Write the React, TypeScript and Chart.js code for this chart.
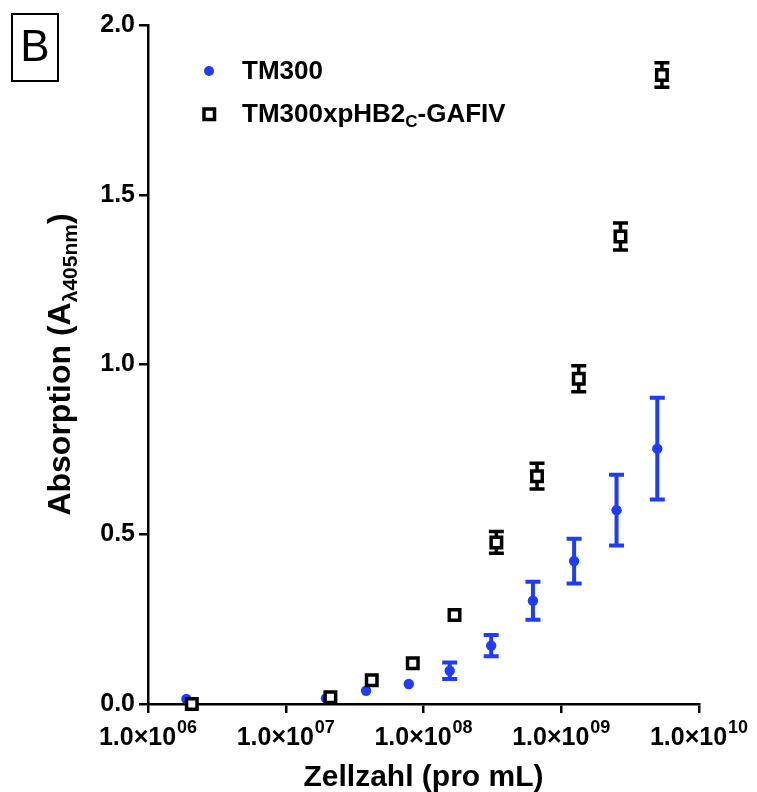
import React, { useEffect, useRef } from 'react';
import { Chart, registerables } from 'chart.js';

Chart.register(...registerables);

const FONT = "'Liberation Sans', Arial, Helvetica, sans-serif";

// Data
const seriesNames = ['TM300', 'TM300xpHB2', 'C', '-GAFIV'];
const xBlue = [1.9e6, 1.96e7, 3.83e7, 7.82e7, 1.55e8, 3.1e8, 6.23e8, 1.24e9, 2.52e9, 4.98e9];
const yBlue = [0.015, 0.017, 0.039, 0.059, 0.098, 0.172, 0.304, 0.421, 0.571, 0.752];
const errBlue = [0, 0, 0, 0, 0.024, 0.031, 0.056, 0.066, 0.104, 0.15];
const xBlack = [2.08e6, 2.11e7, 4.21e7, 8.36e7, 1.68e8, 3.38e8, 6.67e8, 1.34e9, 2.69e9, 5.38e9];
const yBlack = [0.0, 0.02, 0.07, 0.12, 0.262, 0.476, 0.671, 0.958, 1.377, 1.853];
const errBlack = [0, 0, 0, 0, 0, 0.032, 0.038, 0.038, 0.04, 0.036];
const xTicks = [1e6, 1e7, 1e8, 1e9, 1e10];
const xTickMant = '1.0×10';
const xTickExp = ['06', '07', '08', '09', '10'];
const yTicks = [0, 0.5, 1.0, 1.5, 2.0];
const xTitle = 'Zellzahl (pro mL)';
const yTitleMain = 'Absorption (A';
const yTitleSub = 'λ405nm';
const yTitleEnd = ')';
const panelLabel = 'B';

const BLUE = '#1e3cfa';
const BLACK = '#000000';

export default function App() {
  const ref = useRef<HTMLCanvasElement>(null);

  useEffect(() => {
    const canvas = ref.current!;

    const errPlugin = {
      id: 'errbars',
      beforeDatasetsDraw(chart: any) {
        const ctx = chart.ctx;
        const xs = chart.scales.x;
        const ys = chart.scales.y;
        chart.data.datasets.forEach((ds: any) => {
          const errs: number[] = ds.errs;
          ctx.save();
          ctx.strokeStyle = ds.errColor;
          ctx.lineWidth = ds.errWidth;
          ctx.lineCap = 'butt';
          ds.data.forEach((p: any, i: number) => {
            const e = errs[i];
            if (!e) return;
            const px = xs.getPixelForValue(p.x);
            const top = ys.getPixelForValue(p.y + e);
            const bot = ys.getPixelForValue(p.y - e);
            ctx.beginPath();
            ctx.moveTo(px, top);
            ctx.lineTo(px, bot);
            ctx.moveTo(px - 7.5, top);
            ctx.lineTo(px + 7.5, top);
            ctx.moveTo(px - 7.5, bot);
            ctx.lineTo(px + 7.5, bot);
            ctx.stroke();
          });
          ctx.restore();
        });
      },
    };

    const textPlugin = {
      id: 'texts',
      afterDraw(chart: any) {
        const ctx = chart.ctx;
        const xs = chart.scales.x;
        const area = chart.chartArea;
        ctx.save();
        ctx.fillStyle = '#000';
        ctx.textBaseline = 'alphabetic';
        ctx.textAlign = 'left';

        // x tick labels with superscript exponents
        const mainF = `bold 25px ${FONT}`;
        const supF = `bold 18px ${FONT}`;
        xTicks.forEach((v, i) => {
          const px = xs.getPixelForValue(v);
          ctx.font = mainF;
          const w1 = ctx.measureText(xTickMant).width;
          ctx.font = supF;
          const w2 = ctx.measureText(xTickExp[i]).width;
          const x0 = px - (w1 + w2 + 1) / 2;
          ctx.font = mainF;
          ctx.fillText(xTickMant, x0, 745);
          ctx.font = supF;
          ctx.fillText(xTickExp[i], x0 + w1 + 1, 733);
        });

        // x title
        ctx.font = `bold 30px ${FONT}`;
        ctx.textAlign = 'center';
        ctx.fillText(xTitle, (area.left + area.right) / 2, 786);

        // y title (rotated)
        ctx.save();
        ctx.translate(70, (area.top + area.bottom) / 2);
        ctx.rotate(-Math.PI / 2);
        ctx.textAlign = 'left';
        const tF = `bold 32px ${FONT}`;
        const sF = `bold 21px ${FONT}`;
        ctx.font = tF;
        const a = ctx.measureText(yTitleMain).width;
        const c = ctx.measureText(yTitleEnd).width;
        ctx.font = sF;
        const b = ctx.measureText(yTitleSub).width;
        const total = a + b + c;
        let cx = -total / 2;
        ctx.font = tF;
        ctx.fillText(yTitleMain, cx, 0);
        cx += a;
        ctx.font = sF;
        ctx.fillText(yTitleSub, cx, 7);
        cx += b;
        ctx.font = tF;
        ctx.fillText(yTitleEnd, cx, 0);
        ctx.restore();

        // legend
        ctx.textAlign = 'left';
        ctx.textBaseline = 'middle';
        ctx.fillStyle = BLUE;
        ctx.beginPath();
        ctx.arc(209, 71, 5, 0, Math.PI * 2);
        ctx.fill();
        ctx.strokeStyle = BLACK;
        ctx.lineWidth = 3.5;
        ctx.fillStyle = '#fff';
        ctx.fillRect(204, 109, 10.5, 10.5);
        ctx.strokeRect(204, 109, 10.5, 10.5);
        ctx.fillStyle = '#000';
        const lF = `bold 26px ${FONT}`;
        ctx.font = lF;
        ctx.fillText(seriesNames[0], 242, 72);
        ctx.fillText(seriesNames[1], 242, 115);
        const w0 = ctx.measureText(seriesNames[1]).width;
        ctx.font = `bold 17px ${FONT}`;
        ctx.fillText(seriesNames[2], 242 + w0, 122);
        const wc = ctx.measureText(seriesNames[2]).width;
        ctx.font = lF;
        ctx.fillText(seriesNames[3], 242 + w0 + wc, 115);

        // panel label box
        ctx.lineWidth = 2;
        ctx.strokeStyle = '#000';
        ctx.strokeRect(12, 14, 46, 67);
        ctx.font = `44px ${FONT}`;
        ctx.textAlign = 'center';
        ctx.textBaseline = 'middle';
        ctx.fillText(panelLabel, 35, 49);

        ctx.restore();
      },
    };

    const axisCommon = {
      grid: {
        drawOnChartArea: false,
        drawTicks: true,
        tickLength: 9,
        color: '#000',
        lineWidth: 2.5,
      },
      border: { display: true, color: '#000', width: 2.5 },
    };

    const chart = new Chart(canvas, {
      type: 'scatter',
      data: {
        datasets: [
          {
            label: 'TM300',
            data: xBlue.map((x, i) => ({ x, y: yBlue[i] })),
            pointStyle: 'circle',
            pointRadius: 5.2,
            pointBackgroundColor: BLUE,
            pointBorderWidth: 0,
            showLine: false,
            clip: false,
            order: 2,
            errs: errBlue,
            errColor: BLUE,
            errWidth: 4,
          } as any,
          {
            label: 'TM300xpHB2C-GAFIV',
            data: xBlack.map((x, i) => ({ x, y: yBlack[i] })),
            pointStyle: 'rect',
            pointRadius: 7.4,
            pointBackgroundColor: '#fff',
            pointBorderColor: BLACK,
            pointBorderWidth: 3.5,
            showLine: false,
            clip: false,
            order: 1,
            errs: errBlack,
            errColor: BLACK,
            errWidth: 3.5,
          } as any,
        ],
      },
      options: {
        responsive: false,
        animation: false,
        devicePixelRatio: 1,
        layout: { padding: { left: 0, right: 58, top: 25, bottom: 0 } },
        plugins: { legend: { display: false }, tooltip: { enabled: false } },
        scales: {
          x: {
            type: 'logarithmic',
            position: 'bottom',
            min: xTicks[0],
            max: xTicks[xTicks.length - 1],
            afterBuildTicks: (s: any) => {
              s.ticks = xTicks.map((v) => ({ value: v }));
            },
            afterFit: (s: any) => {
              s.height = 88;
            },
            ticks: { display: false },
            ...axisCommon,
          } as any,
          y: {
            type: 'linear',
            min: yTicks[0],
            max: yTicks[yTicks.length - 1],
            afterBuildTicks: (s: any) => {
              s.ticks = yTicks.map((v) => ({ value: v }));
            },
            afterFit: (s: any) => {
              s.width = 148;
            },
            ticks: {
              callback: (v: any) => Number(v).toFixed(1),
              font: { family: FONT, size: 25, weight: 'bold' },
              color: '#000',
              padding: 4,
            },
            ...axisCommon,
          } as any,
        },
      },
      plugins: [errPlugin, textPlugin],
    });

    return () => chart.destroy();
  }, []);

  return (
    <div style={{ position: 'absolute', left: 0, top: 0, width: 757, height: 792, background: '#fff' }}>
      <canvas ref={ref} width={757} height={792} style={{ display: 'block', width: 757, height: 792 }} />
    </div>
  );
}
